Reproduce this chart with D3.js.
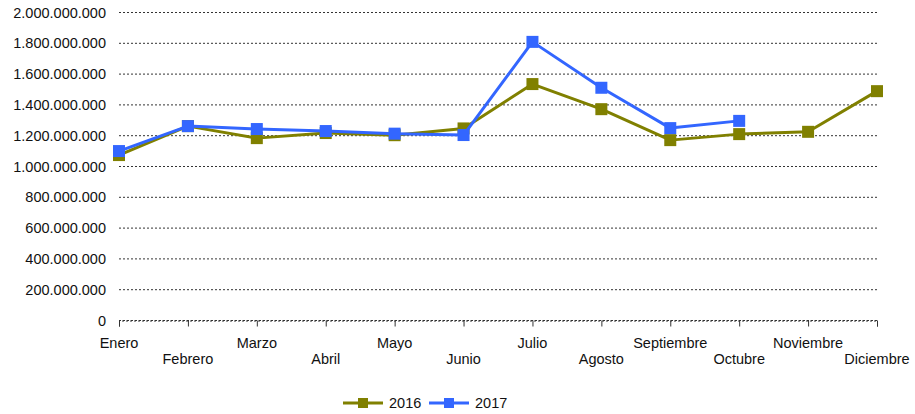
<!DOCTYPE html>
<html><head><meta charset="utf-8">
<script src="https://cdn.jsdelivr.net/npm/d3@7"></script>
<style>body{margin:0;background:#fff}svg{display:block;font-family:"Liberation Sans",Arial,sans-serif}</style>
</head><body>
<svg id="c" width="915" height="414"></svg>
<script>
const months = ["Enero","Febrero","Marzo","Abril","Mayo","Junio","Julio","Agosto","Septiembre","Octubre","Noviembre","Diciembre"];
const values2016 = [1071e6,1259e6,1181e6,1214e6,1200e6,1244e6,1532e6,1369e6,1168e6,1207e6,1222e6,1486e6];
const values2017 = [1097e6,1259e6,1240e6,1227e6,1210e6,1201e6,1806e6,1508e6,1246e6,1293e6];
const yTicks = [0,2e8,4e8,6e8,8e8,1e9,1.2e9,1.4e9,1.6e9,1.8e9,2e9];
const seriesNames = ["2016","2017"];
const colors = ["#808000","#3366FF"];

const FS = 14.5;
const svg = d3.select("#c");
const x = d3.scalePoint().domain(months).range([119,877]);
const y = d3.scaleLinear().domain([0,2e9]).range([320,12]);
const fmt = v => d3.format(",")(v).replace(/,/g,".");

// gridlines
svg.append("g").selectAll("line").data(yTicks).join("line")
  .attr("x1",119).attr("x2",877).attr("y1",d=>y(d)+0.5).attr("y2",d=>y(d)+0.5)
  .attr("stroke","#333").attr("stroke-width",1).attr("stroke-dasharray","2,2");

// y labels
svg.append("g").selectAll("text").data(yTicks).join("text")
  .attr("x",106).attr("y",d=>y(d)+5.5).attr("text-anchor","end")
  .attr("font-size",FS).attr("fill","#111").text(fmt);

// x axis
const xa = svg.append("g").attr("transform","translate(0,320.5)")
  .call(d3.axisBottom(x).tickSize(6).tickFormat(""));
xa.select(".domain").attr("stroke","#333").attr("stroke-dasharray","2,2");
xa.selectAll(".tick line").attr("stroke","#333");
svg.append("g").selectAll("text").data(months).join("text")
  .attr("x",d=>x(d)).attr("y",(d,i)=> i%2===0 ? 348 : 364)
  .attr("text-anchor","middle").attr("font-size",FS).attr("fill","#111").text(d=>d);

const line = d3.line().x((d,i)=>x(months[i])).y(d=>y(d));
[values2016, values2017].forEach((vals,k)=>{
  const g = svg.append("g");
  g.append("path").datum(vals).attr("d",line).attr("fill","none")
    .attr("stroke",colors[k]).attr("stroke-width",3).attr("stroke-linejoin","round");
  g.selectAll("rect").data(vals).join("rect")
    .attr("x",(d,i)=>x(months[i])-6).attr("y",d=>y(d)-6)
    .attr("width",12).attr("height",12).attr("fill",colors[k]);
});

// legend
const lg = svg.append("g");
const lx = [343, 429];
seriesNames.forEach((n,k)=>{
  lg.append("line").attr("x1",lx[k]).attr("x2",lx[k]+40).attr("y1",403).attr("y2",403)
    .attr("stroke",colors[k]).attr("stroke-width",3);
  lg.append("rect").attr("x",lx[k]+15).attr("y",398).attr("width",10).attr("height",10).attr("fill",colors[k]);
  lg.append("text").attr("x",lx[k]+46).attr("y",408).attr("font-size",FS).attr("fill","#111").text(n);
});
</script>
</body></html>
